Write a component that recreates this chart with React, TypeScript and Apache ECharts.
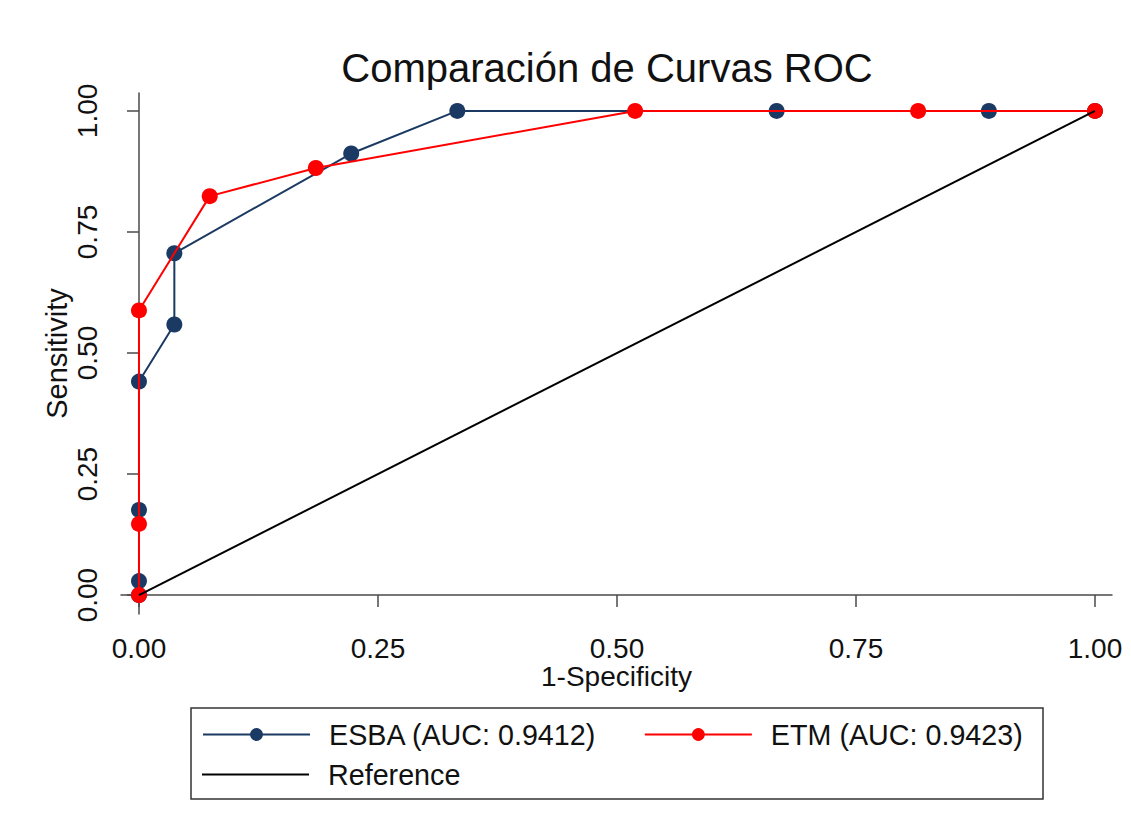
import React, { useEffect, useRef } from "react";
import * as echarts from "echarts";

const esbaFpr = [0, 0, 0, 0, 0.037, 0.037, 0.222, 0.333, 0.667, 0.889, 1];
const esbaTpr = [0, 0.029, 0.176, 0.441, 0.559, 0.706, 0.912, 1, 1, 1, 1];
const etmFpr = [0, 0, 0, 0.074, 0.185, 0.519, 0.815, 1];
const etmTpr = [0, 0.147, 0.588, 0.824, 0.882, 1, 1, 1];
const refFpr = [0, 1];
const refTpr = [0, 1];
const tickValues = [0, 0.25, 0.5, 0.75, 1];
const seriesNames = ["ESBA (AUC: 0.9412)", "ETM (AUC: 0.9423)", "Reference"];
const titleText = "Comparación de Curvas ROC";
const xName = "1-Specificity";
const yName = "Sensitivity";

const FONT = "Liberation Sans, Arial, sans-serif";
const NAVY = "#1b3a63";
const RED = "#ff0000";
const AXIS = "#4a4a4a";

const zip = (a: number[], b: number[]) => a.map((v, i) => [v, b[i]]);

export default function App() {
  const ref = useRef<HTMLDivElement>(null);
  useEffect(() => {
    if (!ref.current) return;
    const chart = echarts.init(ref.current, null, { renderer: "svg" });
    const fmt = (v: number) => v.toFixed(2);
    chart.setOption({
      animation: false,
      backgroundColor: "#ffffff",
      textStyle: { fontFamily: FONT },
      title: {
        text: titleText,
        left: 607,
        top: 48,
        textAlign: "center",
        padding: 0,
        textStyle: { fontFamily: FONT, fontSize: 40, fontWeight: "normal", color: "#111" },
      },
      grid: { left: 121, right: 19, top: 93, bottom: 214, containLabel: false },
      xAxis: {
        type: "value",
        min: -0.0188,
        max: 1.0178,
        name: xName,
        nameLocation: "middle",
        nameGap: 48,
        nameMoveOverlap: false,
        nameTextStyle: { fontFamily: FONT, fontSize: 28, color: "#111" },
        axisLine: { show: true, lineStyle: { color: AXIS, width: 1.5 } },
        axisTick: { show: true, length: 12, customValues: tickValues, lineStyle: { color: AXIS, width: 1.5 } },
        axisLabel: { customValues: tickValues, formatter: fmt, margin: 20, fontFamily: FONT, fontSize: 28, color: "#111" },
        splitLine: { show: false },
      },
      yAxis: {
        type: "value",
        min: -0.039,
        max: 1.037,
        name: yName,
        nameLocation: "middle",
        nameGap: 50,
        nameMoveOverlap: false,
        nameTextStyle: { fontFamily: FONT, fontSize: 29, color: "#111" },
        axisLine: { show: true, lineStyle: { color: AXIS, width: 1.5 } },
        axisTick: { show: true, length: 12, customValues: tickValues, lineStyle: { color: AXIS, width: 1.5 } },
        axisLabel: { customValues: tickValues, formatter: fmt, rotate: 90, margin: 20, fontFamily: FONT, fontSize: 28, color: "#111" },
        splitLine: { show: false },
      },
      legend: [
        {
          data: [seriesNames[0], seriesNames[1]],
          left: 202,
          top: 720,
          padding: 0,
          itemWidth: 107,
          itemHeight: 16,
          itemGap: 47,
          textStyle: { fontFamily: FONT, fontSize: 28.7, color: "#111", padding: [0, 0, 0, 14] },
        },
        {
          data: [{ name: seriesNames[2], icon: "rect" }],
          left: 202,
          top: 760,
          padding: 0,
          itemWidth: 107,
          itemHeight: 2,
          textStyle: { fontFamily: FONT, fontSize: 28.7, color: "#111", padding: [0, 0, 0, 14] },
        },
      ],
      graphic: [
        {
          type: "rect",
          shape: { x: 191, y: 708, width: 852, height: 91 },
          style: { fill: "none", stroke: "#333", lineWidth: 1.5 },
          silent: true,
        },
      ],
      series: [
        {
          name: seriesNames[0],
          type: "line",
          data: zip(esbaFpr, esbaTpr),
          symbol: "circle",
          symbolSize: 16,
          showSymbol: true,
          clip: false,
          itemStyle: { color: NAVY },
          lineStyle: { color: NAVY, width: 2 },
          z: 2,
        },
        {
          name: seriesNames[1],
          type: "line",
          data: zip(etmFpr, etmTpr),
          symbol: "circle",
          symbolSize: 16,
          showSymbol: true,
          clip: false,
          itemStyle: { color: RED },
          lineStyle: { color: RED, width: 2 },
          z: 3,
        },
        {
          name: seriesNames[2],
          type: "line",
          data: zip(refFpr, refTpr),
          symbol: "none",
          showSymbol: false,
          itemStyle: { color: "#000" },
          lineStyle: { color: "#000", width: 2 },
          z: 4,
        },
      ],
    });
    return () => chart.dispose();
  }, []);
  return (
    <div
      ref={ref}
      style={{ position: "fixed", left: 0, top: 0, width: 1131, height: 828, background: "#fff" }}
    />
  );
}
